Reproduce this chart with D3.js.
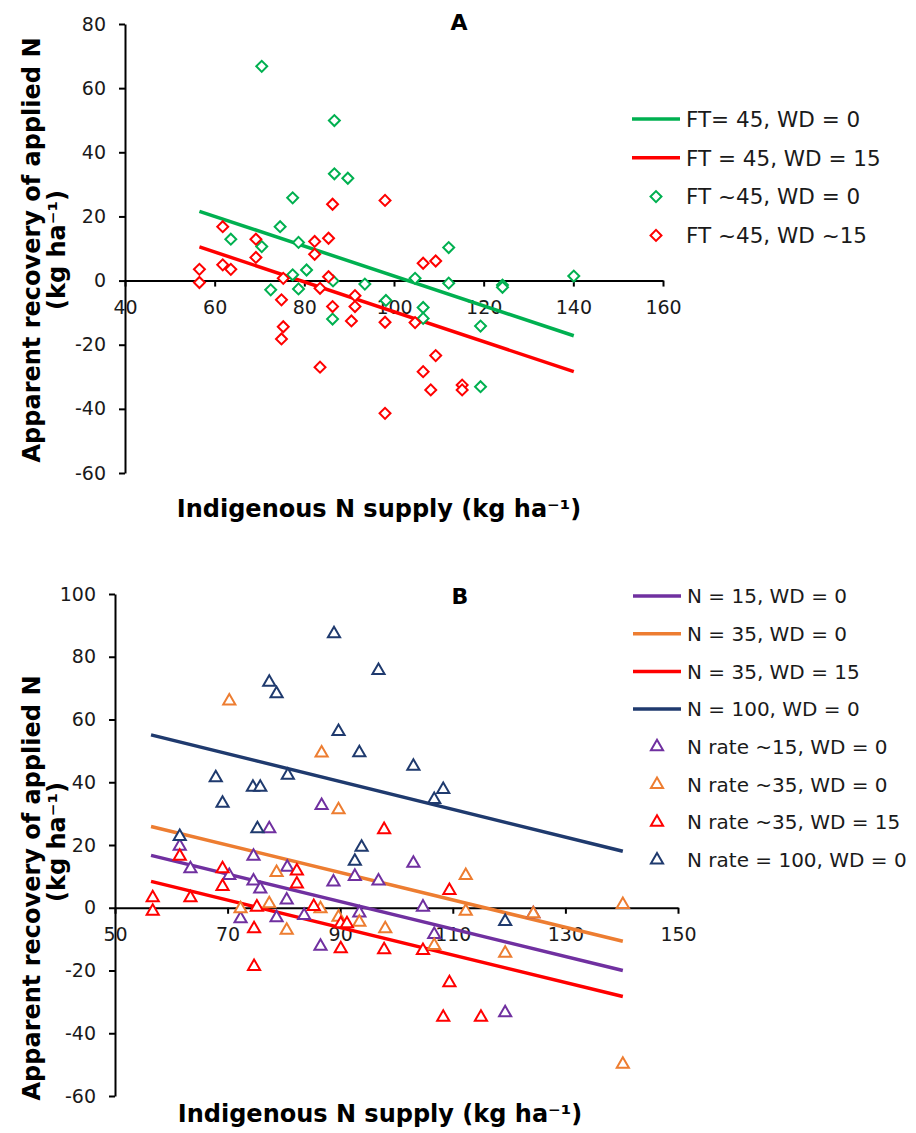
<!DOCTYPE html>
<html>
<head>
<meta charset="utf-8">
<script src="https://cdn.jsdelivr.net/npm/d3@7"></script>
<style>
body { margin: 0; background: #fff; }
text { font-family: "DejaVu Sans", Verdana, sans-serif; }
</style>
</head>
<body>
<svg id="chart" width="916" height="1133"></svg>
<script>
// ---- panel A data ----
var xTicksA = [40, 60, 80, 100, 120, 140, 160];
var yTicksA = [-60, -40, -20, 0, 20, 40, 60, 80];
var ftWd0 = [[70.5,66.8],[86.7,49.9],[86.7,33.3],[89.7,31.9],[77.4,25.8],[74.6,16.8],[63.6,12.9],[70.5,10.6],
	[78.7,11.9],[80.5,3.3],[77.4,1.8],[86.4,-0.1],[93.5,-1.1],[72.5,-2.9],[78.7,-2.6],[86.3,-12],[98.2,-6.2],
	[104.7,0.7],[106.5,-8.4],[106.5,-11.8],[112.2,10.3],[112.2,-0.8],[124.2,-1.4],[124.2,-2.1],[140.1,1.4],
	[119.3,-14.2],[119.3,-33.1]];
var ftWd15 = [[56.6,3.5],[56.6,-0.6],[61.8,4.9],[63.6,3.5],[69.2,7.2],[69.2,12.9],[61.8,16.8],[82.3,12.2],
	[85.4,13.2],[82.3,8.2],[86.3,23.8],[98,25],[75.3,0.7],[85.4,1.2],[74.9,-6],[75.3,-14.4],[74.9,-18.2],
	[83.5,-27],[86.3,-8.1],[90.5,-12.6],[91.3,-4.7],[91.3,-8.1],[98,-13],[98,-41.4],[83.5,-2.4],[104.7,-13.1],
	[106.5,5.4],[109.3,6.1],[109.3,-23.4],[106.5,-28.4],[108.2,-34.1],[115.2,-32.6],[115.2,-34.1]];
var fitFtWd0 = [[56.6, 21.6], [140.1, -17.2]];
var fitFtWd15 = [[56.6, 10.5], [140.1, -28.4]];
var legendA = ["FT= 45, WD = 0", "FT = 45, WD = 15", "FT ~45, WD = 0", "FT ~45, WD ~15"];

// ---- panel B data ----
var xTicksB = [50, 70, 90, 110, 130, 150];
var yTicksB = [-60, -40, -20, 0, 20, 40, 60, 80, 100];
var nRate15 = [[86.7,32.6],[77.4,25.2],[61.5,19.6],[74.6,16.4],[63.4,12.4],[70.3,10.3],[80.6,12.9],[74.6,8.5],
	[75.8,6],[88.8,8.2],[92.6,10],[96.8,8.5],[103,14.2],[80.5,2.5],[72.3,-3.5],[78.7,-3.2],[83.6,-2.5],
	[86.5,-12.3],[93.4,-1.7],[104.7,0.2],[106.7,-8.5],[124.3,-1.9],[119.3,-33.5]];
var nRate35 = [[70.3,65.9],[86.7,49.3],[89.7,31.2],[78.7,11.2],[112.3,10.3],[72.3,-0.3],[77.4,1.3],[80.5,-7.2],
	[86.5,-0.3],[89.7,-3],[93.4,-4.6],[98,-6.7],[106.7,-12],[112.3,-1.1],[119.3,-14.5],[124.3,-1.9],
	[140.2,1],[140.2,-49.9]];
var nRate35Wd15 = [[97.8,24.9],[61.5,16.4],[69.1,12.4],[82.3,11.7],[82.3,7.6],[69.1,6.8],[63.4,3.2],[56.7,3.2],
	[56.7,-1.1],[75.2,0.2],[74.7,-6.7],[74.7,-18.7],[85.3,0.4],[90.1,-5.1],[91.2,-5.1],[90.1,-13.1],
	[97.8,-13.4],[104.7,-13.6],[109.4,5.5],[109.4,-23.9],[108.3,-34.9],[115,-34.9]];
var nRate100 = [[88.9,87.3],[96.8,75.6],[77.4,71.9],[78.7,68.2],[89.7,56.2],[93.4,49.4],[80.7,42.2],[67.9,41.4],
	[74.5,38.4],[75.8,38.4],[69.1,33.3],[75.3,25.2],[61.5,22.7],[93.8,19.3],[92.6,14.8],[103,45.1],
	[108.3,37.7],[106.7,34.5],[119.3,-4.4]];
var fitN15 = [[56.4, 16.7], [140.2, -20]];
var fitN35 = [[56.4, 25.9], [140.2, -10.7]];
var fitN35Wd15 = [[56.4, 8.4], [140.2, -28.3]];
var fitN100 = [[56.4, 55.1], [140.2, 18.0]];
var legendB = ["N = 15, WD = 0", "N = 35, WD = 0", "N = 35, WD = 15", "N = 100, WD = 0",
	"N rate ~15, WD = 0", "N rate ~35, WD = 0", "N rate ~35, WD = 15", "N rate = 100, WD = 0"];

var GREEN = "#00b050", RED = "#ff0000", PURPLE = "#7030a0", ORANGE = "#ed7d31", NAVY = "#1f3a6e";

var svg = d3.select("#chart");

function drawPanel(o) {
	var g = svg.append("g");
	var x = d3.scaleLinear().domain(o.xDomain).range(o.xRange);
	var y = d3.scaleLinear().domain(o.yDomain).range(o.yRange);

	// y axis at the left end of x domain
	var yAxis = g.append("g")
		.attr("transform", "translate(" + x(o.xDomain[0]) + ",0)")
		.call(d3.axisLeft(y).tickValues(o.yTicks).tickFormat(function(d) { return d; })
			.tickSize(6).tickPadding(13).tickSizeOuter(0));
	// x axis crossing at zero
	var xAxis = g.append("g")
		.attr("transform", "translate(0," + y(0) + ")")
		.call(d3.axisBottom(x).tickValues(o.xTicks).tickFormat(function(d) { return d; })
			.tickSize(6).tickPadding(14).tickSizeOuter(0));

	[yAxis, xAxis].forEach(function(a) {
		a.select(".domain").attr("stroke", "#000").attr("stroke-width", 2);
		a.selectAll(".tick line").attr("stroke", "#000").attr("stroke-width", 2);
		a.selectAll(".tick text").attr("fill", "#1a1a1a").style("font-size", "19px");
	});

	var line = d3.line().x(function(d) { return x(d[0]); }).y(function(d) { return y(d[1]); });
	o.fits.forEach(function(f) {
		g.append("path").datum(f.pts)
			.attr("d", line)
			.attr("fill", "none")
			.attr("stroke", f.color)
			.attr("stroke-width", 3.5);
	});

	o.series.forEach(function(s) {
		g.selectAll(null).data(s.pts).enter()
			.append("path")
			.attr("d", o.symbol)
			.attr("transform", function(d) {
				return "translate(" + x(d[0]) + "," + y(d[1]) + ")" + o.rot;
			})
			.attr("fill", "#fff")
			.attr("stroke", s.color)
			.attr("stroke-width", 2);
	});

	// panel letter
	g.append("text")
		.attr("x", o.letterPos[0]).attr("y", o.letterPos[1])
		.attr("text-anchor", "middle")
		.style("font-size", "22px").style("font-weight", "bold")
		.text(o.letter);

	// axis titles
	g.append("text")
		.attr("x", o.xTitlePos[0]).attr("y", o.xTitlePos[1])
		.attr("text-anchor", "middle")
		.style("font-size", "24px").style("font-weight", "bold")
		.text("Indigenous N supply (kg ha\u207B\u00B9)");
	g.append("text")
		.attr("transform", "translate(" + o.yTitlePos[0] + "," + o.yTitlePos[1] + ") rotate(-90)")
		.attr("text-anchor", "middle")
		.style("font-size", "24px").style("font-weight", "bold")
		.text("Apparent recovery of applied N");
	g.append("text")
		.attr("transform", "translate(" + o.yTitlePos2[0] + "," + o.yTitlePos2[1] + ") rotate(-90)")
		.attr("text-anchor", "middle")
		.style("font-size", "24px").style("font-weight", "bold")
		.text("(kg ha\u207B\u00B9)");

	// legend
	var lg = g.append("g").attr("transform", "translate(" + o.legendPos[0] + "," + o.legendPos[1] + ")");
	o.legend.forEach(function(item, i) {
		var yy = i * o.legendStep;
		if (item.type === "line") {
			lg.append("line").attr("x1", 0).attr("x2", 48).attr("y1", yy).attr("y2", yy)
				.attr("stroke", item.color).attr("stroke-width", 3.5);
		} else {
			lg.append("path").attr("d", o.symbol)
				.attr("transform", "translate(24," + yy + ")" + o.rot)
				.attr("fill", "#fff").attr("stroke", item.color).attr("stroke-width", 2);
		}
		lg.append("text").attr("x", 54).attr("y", yy).attr("dy", "0.36em")
			.style("font-size", o.legendFont).attr("fill", "#1a1a1a")
			.text(item.label);
	});
}

var diamond = d3.symbol().type(d3.symbolSquare).size(60)();
var triangle = d3.symbol().type(d3.symbolTriangle).size(64)();

drawPanel({
	xDomain: [40, 160], xRange: [125, 663],
	yDomain: [-60, 80], yRange: [473, 24],
	xTicks: xTicksA, yTicks: yTicksA,
	fits: [{ pts: fitFtWd0, color: GREEN }, { pts: fitFtWd15, color: RED }],
	series: [{ pts: ftWd0, color: GREEN }, { pts: ftWd15, color: RED }],
	symbol: diamond, rot: " rotate(45)",
	letter: "A", letterPos: [459, 30],
	xTitlePos: [379, 517],
	yTitlePos: [40, 250], yTitlePos2: [65, 250],
	legendPos: [632, 119], legendStep: 38.8, legendFont: "21.5px",
	legend: [
		{ type: "line", color: GREEN, label: legendA[0] },
		{ type: "line", color: RED, label: legendA[1] },
		{ type: "mark", color: GREEN, label: legendA[2] },
		{ type: "mark", color: RED, label: legendA[3] }
	]
});

drawPanel({
	xDomain: [50, 150], xRange: [115, 678],
	yDomain: [-60, 100], yRange: [1096, 594],
	xTicks: xTicksB, yTicks: yTicksB,
	fits: [{ pts: fitN15, color: PURPLE }, { pts: fitN35, color: ORANGE },
		{ pts: fitN35Wd15, color: RED }, { pts: fitN100, color: NAVY }],
	series: [{ pts: nRate15, color: PURPLE }, { pts: nRate35, color: ORANGE },
		{ pts: nRate35Wd15, color: RED }, { pts: nRate100, color: NAVY }],
	symbol: triangle, rot: "",
	letter: "B", letterPos: [460, 604],
	xTitlePos: [380, 1122],
	yTitlePos: [40, 888], yTitlePos2: [65, 842],
	legendPos: [633, 596], legendStep: 37.7, legendFont: "20px",
	legend: [
		{ type: "line", color: PURPLE, label: legendB[0] },
		{ type: "line", color: ORANGE, label: legendB[1] },
		{ type: "line", color: RED, label: legendB[2] },
		{ type: "line", color: NAVY, label: legendB[3] },
		{ type: "mark", color: PURPLE, label: legendB[4] },
		{ type: "mark", color: ORANGE, label: legendB[5] },
		{ type: "mark", color: RED, label: legendB[6] },
		{ type: "mark", color: NAVY, label: legendB[7] }
	]
});
</script>
</body>
</html>
